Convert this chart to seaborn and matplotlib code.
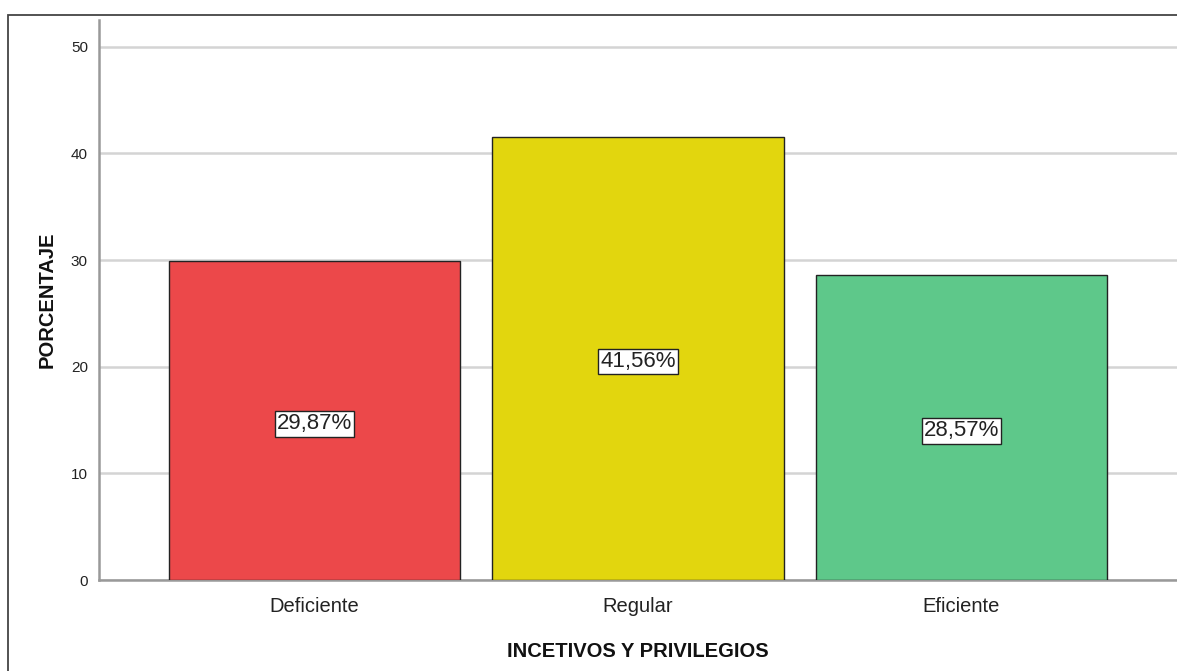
import matplotlib
matplotlib.use("Agg")
import matplotlib.pyplot as plt
import seaborn as sns
import pandas as pd
from matplotlib.patches import Rectangle

categorias = ["Deficiente", "Regular", "Eficiente"]
porcentajes = [29.87, 41.56, 28.57]
etiquetas = ["29,87%", "41,56%", "28,57%"]
colores = ["#EC484A", "#E2D60E", "#5EC88A"]
yticks = [0, 10, 20, 30, 40, 50]

sns.set_theme(style="white")
plt.rcParams["font.family"] = ["Liberation Sans", "DejaVu Sans"]

df = pd.DataFrame({"categoria": categorias, "porcentaje": porcentajes})

fig = plt.figure(figsize=(11.77, 6.71), dpi=100)
ax = fig.add_axes([99 / 1177, 1 - 580 / 671, 1 - 99 / 1177, (580 - 20) / 671])

# outer frame of the chart area
fig.patches.append(Rectangle((8 / 1177, -0.1), 1.2, 1 - 15 / 671 + 0.1,
                             transform=fig.transFigure, fill=False,
                             edgecolor="#444444", linewidth=1.3, zorder=0))

sns.barplot(data=df, x="categoria", y="porcentaje", hue="categoria",
            palette=colores, width=0.9, edgecolor="#222222", linewidth=1.0,
            saturation=1, legend=False, ax=ax, zorder=3)

for i, (v, t) in enumerate(zip(porcentajes, etiquetas)):
    ax.text(i, v / 2 - 0.3, t, ha="center", va="center", fontsize=16, color="#222222",
            zorder=5,
            bbox=dict(boxstyle="square,pad=0.1", facecolor="white",
                      edgecolor="#222222", linewidth=1.0))

ax.set_xlim(-0.666, 2.666)
ax.set_ylim(0, 52.5)
ax.set_yticks(yticks)
ax.set_yticklabels([str(t) for t in yticks], fontsize=11, color="#222222")
ax.tick_params(axis="y", length=0, pad=8)
ax.tick_params(axis="x", length=0, pad=12, labelsize=14.5, labelcolor="#222222")
ax.yaxis.grid(True, color="#d4d4d4", linewidth=1.8, zorder=0)
ax.set_axisbelow(True)

for s in ["top", "right"]:
    ax.spines[s].set_visible(False)
ax.spines["left"].set_color("#999999")
ax.spines["left"].set_linewidth(1.8)
ax.spines["bottom"].set_color("#999999")
ax.spines["bottom"].set_linewidth(1.8)

ax.set_xlabel("INCETIVOS Y PRIVILEGIOS", fontsize=14.5, fontweight="bold",
              color="#111111", labelpad=19)
ax.set_ylabel("PORCENTAJE", fontsize=14.5, fontweight="bold",
              color="#111111", labelpad=10)

fig.savefig("out.png", dpi=100)
